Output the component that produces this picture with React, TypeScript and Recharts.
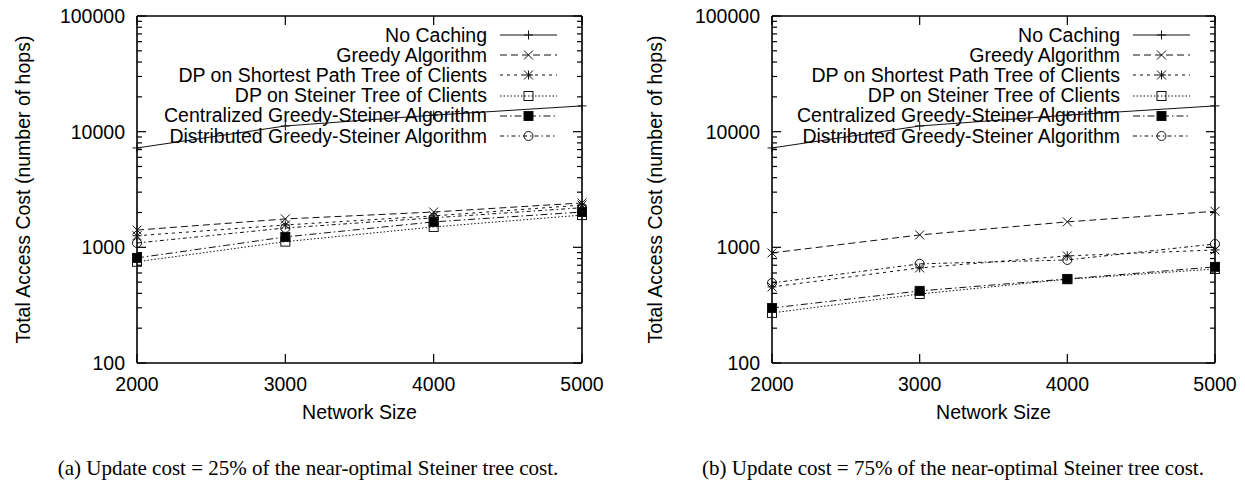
import React from 'react';
import { LineChart, Line, XAxis, YAxis, Legend, Label } from 'recharts';

// network sizes on the x axis
const sizes = [2000, 3000, 4000, 5000];

// (a) update cost = 25%
const noCachingA = [7230, 11200, 13900, 16700];
const greedyA = [1410, 1760, 2020, 2420];
const dpSptA = [1260, 1560, 1870, 2320];
const dpSteinerA = [750, 1120, 1500, 1900];
const centralA = [810, 1230, 1660, 2020];
const distribA = [1090, 1470, 1800, 2200];

// (b) update cost = 75%
const noCachingB = [7230, 11200, 13900, 16700];
const greedyB = [895, 1280, 1660, 2050];
const dpSptB = [455, 664, 843, 950];
const dpSteinerB = [271, 395, 530, 650];
const centralB = [299, 420, 533, 678];
const distribB = [492, 720, 778, 1070];

const seriesNames = [
  'No Caching',
  'Greedy Algorithm',
  'DP on Shortest Path Tree of Clients',
  'DP on Steiner Tree of Clients',
  'Centralized Greedy-Steiner Algorithm',
  'Distributed Greedy-Steiner Algorithm',
];
const xTicks = [2000, 3000, 4000, 5000];
const majorTicks = [100, 1000, 10000, 100000];
const captionA = '(a) Update cost = 25% of the near-optimal Steiner tree cost.';
const captionB = '(b) Update cost = 75% of the near-optimal Steiner tree cost.';

const keys = ['noCaching', 'greedy', 'dpSpt', 'dpSteiner', 'central', 'distrib'];
const dashes = ['', '7 4', '3 4', '1.5 2', '7 3 1.5 3', '4 3 1.5 3'];
const markers = ['plus', 'cross', 'star', 'square', 'filled', 'circle'];

const yTicks: number[] = [];
[100, 1000, 10000].forEach((d) => {
  for (let k = 1; k < 10; k++) yTicks.push(d * k);
});
yTicks.push(100000);

const FONT = '"Liberation Sans", Arial, sans-serif';
const FS = 19.5;
const INK = '#000';

function buildData(cols: number[][]) {
  return sizes.map((s, i) => {
    const row: any = { size: s };
    keys.forEach((k, j) => (row[k] = cols[j][i]));
    return row;
  });
}

const dataA = buildData([noCachingA, greedyA, dpSptA, dpSteinerA, centralA, distribA]);
const dataB = buildData([noCachingB, greedyB, dpSptB, dpSteinerB, centralB, distribB]);

function Marker({ kind, cx, cy }: { kind: string; cx: number; cy: number }) {
  const s = 4.5;
  const st = { stroke: '#111', strokeWidth: 1 };
  if (kind === 'plus')
    return (
      <g>
        <line x1={cx - s} x2={cx + s} y1={cy} y2={cy} {...st} />
        <line x1={cx} x2={cx} y1={cy - s} y2={cy + s} {...st} />
      </g>
    );
  if (kind === 'cross')
    return (
      <g>
        <line x1={cx - s} x2={cx + s} y1={cy - s} y2={cy + s} {...st} />
        <line x1={cx - s} x2={cx + s} y1={cy + s} y2={cy - s} {...st} />
      </g>
    );
  if (kind === 'star')
    return (
      <g>
        <line x1={cx - s} x2={cx + s} y1={cy - s} y2={cy + s} {...st} />
        <line x1={cx - s} x2={cx + s} y1={cy + s} y2={cy - s} {...st} />
        <line x1={cx - s} x2={cx + s} y1={cy} y2={cy} {...st} />
        <line x1={cx} x2={cx} y1={cy - s} y2={cy + s} {...st} />
      </g>
    );
  if (kind === 'square')
    return <rect x={cx - s} y={cy - s} width={2 * s} height={2 * s} fill="none" {...st} />;
  if (kind === 'filled')
    return <rect x={cx - s} y={cy - s} width={2 * s} height={2 * s} fill="#000" {...st} />;
  return <circle cx={cx} cy={cy} r={s} fill="none" {...st} />;
}

const renderLegend = () => (
  <div style={{ fontFamily: FONT, fontSize: FS, color: INK }}>
    {seriesNames.map((name, i) => (
      <div
        key={name}
        style={{ display: 'flex', justifyContent: 'flex-end', alignItems: 'center', height: 20.2, whiteSpace: 'nowrap' }}
      >
        <span>{name}</span>
        <svg width={70} height={20} style={{ display: 'block' }}>
          <line x1={13} x2={70} y1={10} y2={10} stroke="#111" strokeWidth={1} strokeDasharray={dashes[i]} />
          <Marker kind={markers[i]} cx={41.5} cy={10} />
        </svg>
      </div>
    ))}
  </div>
);

const leftYTick = (props: any) => {
  const { x, y, payload } = props;
  const major = majorTicks.includes(payload.value);
  return (
    <g>
      <line x1={x} x2={x + (major ? 9 : 5)} y1={y} y2={y} stroke={INK} strokeWidth={1.2} />
      {major && (
        <text x={x - 12} y={y} dy="0.36em" textAnchor="end" fontFamily={FONT} fontSize={FS} fill={INK}>
          {payload.value}
        </text>
      )}
    </g>
  );
};

const rightYTick = (props: any) => {
  const { x, y, payload } = props;
  const major = majorTicks.includes(payload.value);
  return <line x1={x} x2={x - (major ? 9 : 5)} y1={y} y2={y} stroke={INK} strokeWidth={1.2} />;
};

const bottomXTick = (props: any) => {
  const { x, y, payload } = props;
  return (
    <g>
      <line x1={x} x2={x} y1={y} y2={y - 9} stroke={INK} strokeWidth={1.2} />
      <text x={x} y={y + 21} dy="0.36em" textAnchor="middle" fontFamily={FONT} fontSize={FS} fill={INK}>
        {payload.value}
      </text>
    </g>
  );
};

const topXTick = (props: any) => {
  const { x, y } = props;
  return <line x1={x} x2={x} y1={y} y2={y + 9} stroke={INK} strokeWidth={1.2} />;
};

function Panel({ data, width, leftW, rightW, yLabelX }: any) {
  const axisLine = { stroke: INK, strokeWidth: 1.6 };
  return (
    <LineChart width={width} height={485} data={data} margin={{ top: 0, right: 0, bottom: 0, left: 0 }}>
      <XAxis
        dataKey="size"
        type="number"
        domain={[2000, 5000]}
        ticks={xTicks}
        interval={0}
        height={122}
        tickSize={0}
        tickMargin={0}
        axisLine={axisLine}
        tick={bottomXTick}
      >
        <Label value="Network Size" position="insideTop" offset={42} fontFamily={FONT} fontSize={FS} fill={INK} />
      </XAxis>
      <XAxis
        xAxisId="top"
        dataKey="size"
        type="number"
        orientation="top"
        domain={[2000, 5000]}
        ticks={xTicks}
        interval={0}
        height={16}
        tickSize={0}
        tickMargin={0}
        axisLine={axisLine}
        tick={topXTick}
      />
      <YAxis
        scale="log"
        domain={[100, 100000]}
        ticks={yTicks}
        interval={0}
        width={leftW}
        tickSize={0}
        tickMargin={0}
        axisLine={axisLine}
        tick={leftYTick}
        allowDataOverflow
      >
        <Label
          value="Total Access Cost (number of hops)"
          angle={-90}
          position="insideLeft"
          offset={yLabelX}
          fontFamily={FONT}
          fontSize={FS}
          fill={INK}
          style={{ textAnchor: 'middle' }}
        />
      </YAxis>
      <YAxis
        yAxisId="right"
        orientation="right"
        scale="log"
        domain={[100, 100000]}
        ticks={yTicks}
        interval={0}
        width={rightW}
        tickSize={0}
        tickMargin={0}
        axisLine={axisLine}
        tick={rightYTick}
        allowDataOverflow
      />
      <Legend
        layout="vertical"
        align="center"
        verticalAlign="middle"
        content={renderLegend}
        wrapperStyle={{ top: 25, left: 0, width: width - rightW - 25 }}
      />
      {keys.map((k, i) => (
        <Line
          key={k}
          dataKey={k}
          name={seriesNames[i]}
          type="linear"
          stroke="#111"
          strokeWidth={1}
          strokeDasharray={dashes[i]}
          isAnimationActive={false}
          dot={(p: any) => <Marker key={`${k}-${p.index}`} kind={markers[i]} cx={p.cx} cy={p.cy} />}
          activeDot={false}
        />
      ))}
    </LineChart>
  );
}

const captionStyle: React.CSSProperties = {
  position: 'absolute',
  top: 456,
  fontFamily: '"Liberation Serif", "Times New Roman", serif',
  fontSize: 21,
  textAlign: 'center',
  color: INK,
  whiteSpace: 'nowrap',
};

export default function App() {
  return (
    <div style={{ position: 'absolute', left: 0, top: 0, width: 1245, height: 485, background: '#fff', overflow: 'hidden' }}>
      <div style={{ position: 'absolute', left: 0, top: 0 }}>
        <Panel data={dataA} width={620} leftW={137} rightW={38} yLabelX={23} />
      </div>
      <div style={{ position: 'absolute', left: 620, top: 0 }}>
        <Panel data={dataB} width={625} leftW={152} rightW={30} yLabelX={35} />
      </div>
      <div style={{ ...captionStyle, left: 0, width: 616 }}>{captionA}</div>
      <div style={{ ...captionStyle, left: 620, width: 666 }}>{captionB}</div>
    </div>
  );
}
